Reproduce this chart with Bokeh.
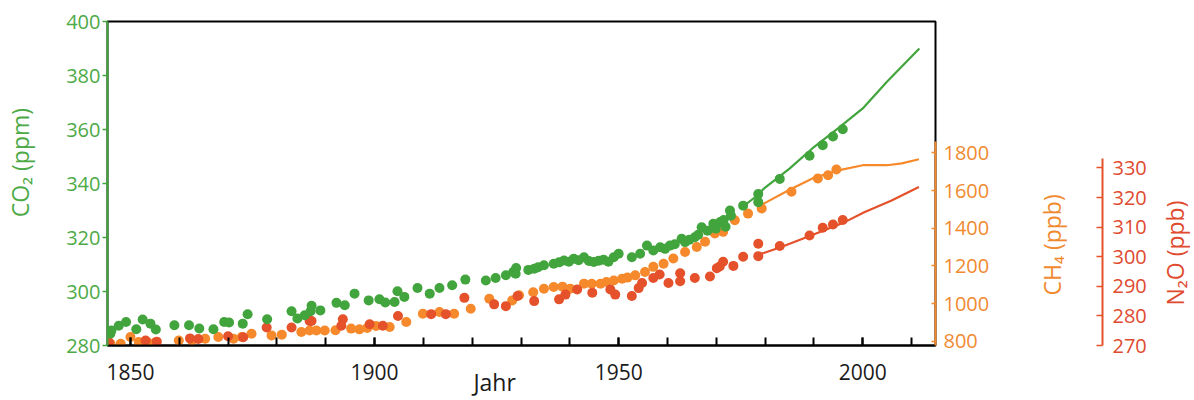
import math
from bokeh.plotting import figure
from bokeh.models import Range1d, LinearAxis, FixedTicker, Title
from bokeh.layouts import row
from bokeh.embed import file_html
from bokeh.resources import INLINE

# ---------------- data ----------------
co2_dot_year = [1845.9, 1846.1, 1847.6, 1849.1, 1851.2, 1852.5, 1854.1, 1855.2, 1859.0, 1862.0,
                1864.1, 1867.0, 1869.2, 1870.2, 1873.0, 1874.0, 1878.0, 1883.0, 1884.2, 1885.7,
                1886.9, 1887.1, 1888.9, 1892.2, 1893.9, 1895.9, 1898.8, 1901.0, 1902.2, 1904.1,
                1904.7, 1906.1, 1908.8, 1911.3, 1913.3, 1915.9, 1918.6, 1922.8, 1924.8, 1926.9,
                1928.4, 1928.9, 1929.0, 1931.5, 1932.7, 1933.5, 1934.7, 1936.7, 1937.8, 1938.8,
                1939.8, 1940.8, 1941.8, 1942.9, 1943.9, 1944.9, 1945.9, 1946.9, 1947.9, 1949.0,
                1950.0, 1952.7, 1954.4, 1955.8, 1957.1, 1958.5, 1959.5, 1960.5, 1961.5, 1962.9,
                1963.6, 1964.5, 1965.6, 1966.3, 1967.0, 1968.2, 1969.4, 1969.9, 1970.8, 1971.5,
                1971.9, 1972.8, 1973.0, 1975.5, 1978.6, 1978.6, 1983.0, 1989.1, 1991.8, 1993.9,
                1995.9]
co2_dot_ppm = [284.4, 285.6, 287.3, 288.7, 286.0, 289.6, 288.1, 285.9, 287.5, 287.5,
               286.3, 286.0, 288.7, 288.5, 288.1, 291.6, 289.7, 292.7, 290.0, 291.2,
               292.7, 294.7, 293.0, 295.8, 294.9, 299.2, 296.7, 297.1, 295.9, 296.1,
               300.1, 298.0, 301.3, 299.2, 301.3, 302.3, 304.4, 304.1, 305.0, 306.0,
               307.2, 306.6, 308.7, 308.0, 308.4, 309.0, 309.7, 310.3, 310.8, 311.5,
               311.0, 312.1, 311.6, 312.7, 311.3, 310.9, 311.4, 311.8, 311.0, 312.7,
               314.0, 312.7, 314.0, 317.0, 315.2, 316.4, 315.8, 317.0, 317.5, 319.5,
               318.3, 319.2, 320.1, 321.0, 323.8, 322.5, 325.1, 323.3, 325.7, 326.5,
               324.0, 330.0, 328.1, 331.8, 336.1, 333.1, 341.7, 350.3, 354.2, 357.4,
               360.1]
co2_line_year = [1975.5, 1978.0, 1980.0, 1985.0, 1990.0, 1995.0, 2000.0, 2005.0, 2011.6]
co2_line_ppm = [331.5, 335.0, 338.5, 345.5, 353.5, 360.5, 367.8, 377.8, 390.0]

ch4_dot_year = [1845.9, 1848.0, 1850.0, 1851.7, 1853.4, 1855.0, 1859.9, 1862.6, 1865.3, 1868.0,
                1871.1, 1872.8, 1874.8, 1878.9, 1881.0, 1885.0, 1886.7, 1888.1, 1889.8, 1892.0,
                1895.2, 1896.9, 1898.5, 1900.3, 1903.1, 1906.5, 1909.9, 1913.3, 1916.3, 1919.7,
                1923.5, 1928.2, 1929.6, 1932.5, 1934.7, 1936.7, 1938.5, 1940.1, 1942.9, 1944.5,
                1946.3, 1947.5, 1949.0, 1950.7, 1951.8, 1953.4, 1955.4, 1957.1, 1959.2, 1961.2,
                1963.6, 1966.0, 1967.7, 1969.7, 1971.4, 1973.8, 1976.5, 1979.3, 1985.4, 1990.8,
                1992.9, 1994.6]
ch4_dot_ppb = [787, 787, 822, 796, 796, 792, 804, 804, 813, 822,
               813, 822, 840, 831, 835, 849, 857, 857, 857, 858,
               867, 863, 870, 881, 876, 902, 946, 955, 946, 973,
               1026, 1017, 1044, 1060, 1079, 1088, 1090, 1079, 1106, 1105,
               1106, 1115, 1123, 1132, 1138, 1150, 1168, 1195, 1212, 1239,
               1274, 1301, 1328, 1372, 1381, 1443, 1478, 1505, 1594, 1664,
               1682, 1712]
ch4_line_year = [1978.5, 1980.0, 1985.0, 1990.0, 1995.0, 2000.0, 2005.0, 2008.0, 2011.5]
ch4_line_ppb = [1510, 1535, 1605, 1668, 1708, 1735, 1735, 1745, 1767]

n2o_dot_year = [1845.6, 1853.1, 1855.4, 1862.2, 1863.9, 1870.0, 1873.1, 1877.9, 1883.0, 1886.7,
                1887.1, 1893.5, 1893.2, 1899.0, 1901.7, 1904.8, 1911.6, 1914.6, 1918.4, 1924.5,
                1926.9, 1929.3, 1932.7, 1937.8, 1939.1, 1941.5, 1944.6, 1948.3, 1949.3, 1952.7,
                1954.1, 1954.8, 1957.1, 1958.4, 1960.2, 1962.6, 1962.6, 1965.6, 1968.7, 1970.1,
                1970.7, 1971.4, 1973.5, 1975.5, 1978.6, 1978.6, 1983.0, 1989.1, 1991.8, 1993.9,
                1995.9]
n2o_dot_ppb = [271.1, 271.7, 271.3, 272.4, 272.2, 273.1, 272.8, 276.1, 276.1, 278.3,
               278.3, 278.9, 276.7, 277.2, 276.7, 280.0, 280.6, 280.6, 286.1, 283.9,
               283.3, 286.7, 285.0, 285.6, 287.2, 288.9, 287.8, 288.9, 287.2, 286.7,
               289.4, 291.1, 292.8, 294.0, 291.1, 294.4, 291.7, 292.8, 293.3, 296.1,
               296.7, 298.3, 296.9, 300.0, 304.4, 300.2, 303.6, 307.2, 309.8, 310.9,
               312.4]
n2o_line_year = [1978.6, 1983.3, 1989.4, 1996.3, 2000.3, 2005.8, 2011.5]
n2o_line_ppb = [300.6, 303.3, 307.2, 311.7, 315.0, 318.9, 323.6]

x_major_ticks = [1850, 1900, 1950, 2000]
x_minor_ticks = [1850, 1860, 1870, 1880, 1890, 1900, 1910, 1920, 1930, 1940, 1950, 1960, 1970, 1980, 1990, 2000, 2010]
co2_ticks = [280, 300, 320, 340, 360, 380, 400]
ch4_ticks = [800, 1000, 1200, 1400, 1600, 1800]
n2o_ticks = [270, 280, 290, 300, 310, 320, 330]

x_title = "Jahr"
co2_title = "CO₂ (ppm)"
ch4_title = "CH₄ (ppb)"
n2o_title = "N₂O (ppb)"

# ---------------- styles ----------------
GREEN = "#41A43C"
GREEN_TXT = "#4DAA47"
ORANGE = "#F5892B"
ORANGE_TXT = "#F08A30"
RED = "#E4512A"
RED_TXT = "#E04A2F"
FONT = "Open Sans"
TITLE_SIZE = "23px"
NB = "\u00a0"  # non-breaking space used to nudge the centred axis titles

TOP, BOTTOM = 21, 53
CO2_RANGE = (280, 400)
CH4_RANGE = (777.3, 2498.5)
N2O_RANGE = (270, 379.5)

# ================= main panel =================
p = figure(width=1005, height=400,
           x_range=Range1d(1845.3, 2014.9), y_range=Range1d(*CO2_RANGE),
           output_backend="svg", toolbar_location=None,
           min_border_left=107, min_border_right=70, min_border_top=TOP, min_border_bottom=BOTTOM)
p.extra_y_ranges = {"ch4": Range1d(*CH4_RANGE), "n2o": Range1d(*N2O_RANGE)}
p.xgrid.visible = False
p.ygrid.visible = False
p.background_fill_color = "white"
p.border_fill_color = "white"
p.outline_line_color = "black"
p.outline_line_width = 2
p.outline_line_alpha = 1.0

# left CO2 axis
ya = p.yaxis[0]
ya.ticker = FixedTicker(ticks=co2_ticks)
ya.axis_line_color = GREEN
ya.axis_line_width = 2
ya.major_tick_line_color = GREEN
ya.major_tick_line_width = 1.5
ya.major_tick_in = 0
ya.major_tick_out = 5
ya.minor_tick_line_color = None
ya.major_label_text_color = GREEN_TXT
ya.major_label_text_font = FONT
ya.major_label_text_font_size = "20px"
ya.major_label_standoff = 2
ya.axis_label = NB * 7 + co2_title
ya.axis_label_text_color = GREEN_TXT
ya.axis_label_text_font = FONT
ya.axis_label_text_font_size = TITLE_SIZE
ya.axis_label_text_font_style = "normal"
ya.axis_label_standoff = 27

# bottom year axis
xa = p.xaxis[0]
xa.ticker = FixedTicker(ticks=x_major_ticks, minor_ticks=x_minor_ticks)
xa.axis_line_color = "black"
xa.axis_line_width = 2
xa.major_tick_line_color = "black"
xa.major_tick_line_width = 2
xa.major_tick_in = 8
xa.major_tick_out = 0
xa.minor_tick_line_color = "black"
xa.minor_tick_line_width = 2
xa.minor_tick_in = 8
xa.minor_tick_out = 0
xa.major_label_text_color = "#1a1a1a"
xa.major_label_text_font = FONT
xa.major_label_text_font_size = "21px"
xa.major_label_standoff = 18
xa.axis_label = x_title + NB * 9
xa.axis_label_text_color = "#1a1a1a"
xa.axis_label_text_font = FONT
xa.axis_label_text_font_size = TITLE_SIZE
xa.axis_label_text_font_style = "normal"
xa.axis_label_standoff = -17

# right CH4 axis (ticks + numbers)
ch4_axis = LinearAxis(y_range_name="ch4", ticker=FixedTicker(ticks=ch4_ticks), bounds=(CH4_RANGE[0], 1860))
ch4_axis.axis_line_color = ORANGE
ch4_axis.axis_line_width = 2
ch4_axis.major_tick_line_color = ORANGE
ch4_axis.major_tick_line_width = 1.5
ch4_axis.major_tick_in = 4
ch4_axis.major_tick_out = 0
ch4_axis.minor_tick_line_color = None
ch4_axis.major_label_text_color = ORANGE_TXT
ch4_axis.major_label_text_font = FONT
ch4_axis.major_label_text_font_size = "20px"
ch4_axis.major_label_standoff = 8
p.add_layout(ch4_axis, "right")

# glyphs
p.scatter(ch4_dot_year, ch4_dot_ppb, y_range_name="ch4", size=10, fill_color=ORANGE, line_color=None)
p.line(ch4_line_year, ch4_line_ppb, y_range_name="ch4", line_color=ORANGE, line_width=2.2)
p.scatter(n2o_dot_year, n2o_dot_ppb, y_range_name="n2o", size=10, fill_color=RED, line_color=None)
p.line(n2o_line_year, n2o_line_ppb, y_range_name="n2o", line_color=RED, line_width=2.2)
p.scatter(co2_dot_year, co2_dot_ppm, size=10, fill_color=GREEN, line_color=None)
p.line(co2_line_year, co2_line_ppm, line_color=GREEN, line_width=2.2)

# ================= CH4 title + N2O axis panel =================
p2 = figure(width=152, height=400, x_range=Range1d(0, 1), y_range=Range1d(*N2O_RANGE),
            output_backend="svg", toolbar_location=None,
            x_axis_location=None, y_axis_location="right",
            min_border_left=63, min_border_right=55, min_border_top=TOP, min_border_bottom=BOTTOM)
p2.xgrid.visible = False
p2.ygrid.visible = False
p2.outline_line_color = None
p2.background_fill_color = "white"
p2.border_fill_color = "white"
n2o_axis = p2.yaxis[0]
n2o_axis.ticker = FixedTicker(ticks=n2o_ticks)
n2o_axis.bounds = (N2O_RANGE[0], 333.3)
n2o_axis.axis_line_color = RED
n2o_axis.axis_line_width = 2
n2o_axis.major_tick_line_color = RED
n2o_axis.major_tick_line_width = 1.5
n2o_axis.major_tick_in = 6
n2o_axis.major_tick_out = 0
n2o_axis.minor_tick_line_color = None
n2o_axis.major_label_text_color = RED_TXT
n2o_axis.major_label_text_font = FONT
n2o_axis.major_label_text_font_size = "20px"
n2o_axis.major_label_standoff = 10
p2.add_layout(Title(text=ch4_title, align="left", vertical_align="middle", offset=50, standoff=0,
                    text_color=ORANGE_TXT, text_font=FONT, text_font_size=TITLE_SIZE,
                    text_font_style="normal"), "left")

# ================= N2O title panel =================
p3 = figure(width=37, height=400, x_range=Range1d(0, 1), y_range=Range1d(*N2O_RANGE),
            output_backend="svg", toolbar_location=None,
            x_axis_location=None, y_axis_location=None,
            min_border_left=33, min_border_right=0, min_border_top=TOP, min_border_bottom=BOTTOM)
p3.xgrid.visible = False
p3.ygrid.visible = False
p3.outline_line_color = None
p3.background_fill_color = "white"
p3.border_fill_color = "white"
p3.add_layout(Title(text=n2o_title, align="left", vertical_align="middle", offset=40, standoff=0,
                    text_color=RED_TXT, text_font=FONT, text_font_size=TITLE_SIZE,
                    text_font_style="normal"), "left")

layout = row(p, p2, p3, spacing=0)
open("out.html", "w").write(file_html(layout, INLINE))
